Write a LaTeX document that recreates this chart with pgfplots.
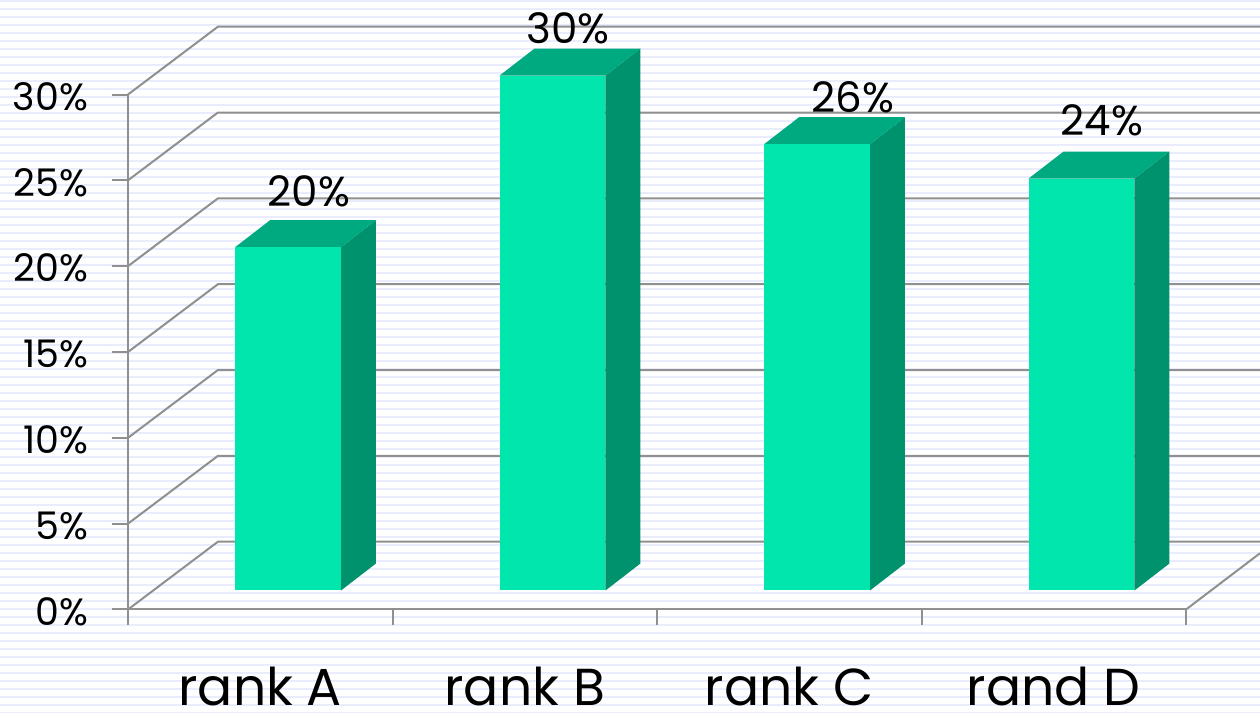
\documentclass[border=0pt]{standalone}
\usepackage{fontspec}
\setmainfont{Poppins}
\usepackage{pgfplots}
\pgfplotsset{compat=1.18}
\definecolor{front}{RGB}{0,230,172}
\definecolor{topf}{RGB}{0,170,128}
\definecolor{sidef}{RGB}{0,145,109}
\definecolor{gridc}{RGB}{144,144,144}
\definecolor{stripe}{RGB}{232,236,252}
\pgfplotsset{
  frontbar/.style={fill=front,draw=none,xshift=13.9pt,yshift=9.5pt,forget plot},
  topbar/.style={fill=topf,draw=none,xshift=13.9pt,yshift=9.5pt,forget plot},
  sidebar/.style={fill=sidef,draw=none,xshift=13.9pt,yshift=9.5pt,forget plot},
  gl/.style={draw=gridc,line width=1pt,forget plot}
}
\begin{document}
\begin{tikzpicture}[x=1pt,y=1pt]
\fill[white] (0,0) rectangle (630,356.5);
\foreach \k in {0,...,89}{
  \fill[stripe] (0,{356.5-0.5*(1+8*\k)-0.45}) rectangle (630,{356.5-0.5*(1+8*\k)+0.45});
}
\begin{axis}[
  at={(64pt,51.75pt)},anchor=south west,
  scale only axis,width=529pt,height=257.5pt,
  xmin=0,xmax=4,ymin=0,ymax=30,
  clip=false,
  axis x line=bottom,axis y line=left,
  axis line style={-,draw=gridc,line width=1pt},
  tick style={draw=gridc,line width=1pt},
  tick align=outside,
  major tick length=8pt,
  xtick={0,1,2,3,4},xticklabels={},
  extra x ticks={0.5,1.5,2.5,3.5},
  extra x tick labels={rank A,rank B,rank C,rand D},
  extra x tick style={major tick length=0pt,
    tick label style={font=\fontsize{26}{26}\selectfont,anchor=base,inner sep=0pt,outer sep=0pt,yshift=-48pt}},
  ytick={0,5,10,15,20,25,30},
  yticklabels={0\%,5\%,10\%,15\%,20\%,25\%,30\%},
  y tick label style={font=\fontsize{19}{19}\selectfont,anchor=east,xshift=-8.5pt,yshift=-1pt},
]
% back wall grid lines
\addplot[gl] coordinates {(0,0)(0.34,3.95)(4.28,3.95)};
\addplot[gl] coordinates {(0,5)(0.34,8.95)(4.28,8.95)};
\addplot[gl] coordinates {(0,10)(0.34,13.95)(4.28,13.95)};
\addplot[gl] coordinates {(0,15)(0.34,18.95)(4.28,18.95)};
\addplot[gl] coordinates {(0,20)(0.34,23.95)(4.28,23.95)};
\addplot[gl] coordinates {(0,25)(0.34,28.95)(4.28,28.95)};
\addplot[gl] coordinates {(0,30)(0.34,33.95)(4.28,33.95)};
\addplot[gl] coordinates {(4,0)(4.28,3.28)};
% rank A = 20
\addplot[sidebar] coordinates {(0.7,0)(0.832,1.57)(0.832,21.57)(0.7,20)} --cycle;
\addplot[topbar] coordinates {(0.3,20)(0.7,20)(0.832,21.57)(0.432,21.57)} --cycle;
\addplot[frontbar] coordinates {(0.3,0)(0.7,0)(0.7,20)(0.3,20)} --cycle;
% rank B = 30
\addplot[sidebar] coordinates {(1.7,0)(1.832,1.57)(1.832,31.57)(1.7,30)} --cycle;
\addplot[topbar] coordinates {(1.3,30)(1.7,30)(1.832,31.57)(1.432,31.57)} --cycle;
\addplot[frontbar] coordinates {(1.3,0)(1.7,0)(1.7,30)(1.3,30)} --cycle;
% rank C = 26
\addplot[sidebar] coordinates {(2.7,0)(2.832,1.57)(2.832,27.57)(2.7,26)} --cycle;
\addplot[topbar] coordinates {(2.3,26)(2.7,26)(2.832,27.57)(2.432,27.57)} --cycle;
\addplot[frontbar] coordinates {(2.3,0)(2.7,0)(2.7,26)(2.3,26)} --cycle;
% rand D = 24
\addplot[sidebar] coordinates {(3.7,0)(3.832,1.57)(3.832,25.57)(3.7,24)} --cycle;
\addplot[topbar] coordinates {(3.3,24)(3.7,24)(3.832,25.57)(3.432,25.57)} --cycle;
\addplot[frontbar] coordinates {(3.3,0)(3.7,0)(3.7,24)(3.3,24)} --cycle;
% value labels
\node[anchor=base,font=\fontsize{21}{21}\selectfont] at (axis cs:0.684,23.45) {20\%};
\node[anchor=base,font=\fontsize{21}{21}\selectfont] at (axis cs:1.664,33.0) {30\%};
\node[anchor=base,font=\fontsize{21}{21}\selectfont] at (axis cs:2.741,28.95) {26\%};
\node[anchor=base,font=\fontsize{21}{21}\selectfont] at (axis cs:3.682,27.6) {24\%};
\end{axis}
\pgfresetboundingbox
\useasboundingbox (0,0) rectangle (630,356.5);
\end{tikzpicture}
\end{document}
